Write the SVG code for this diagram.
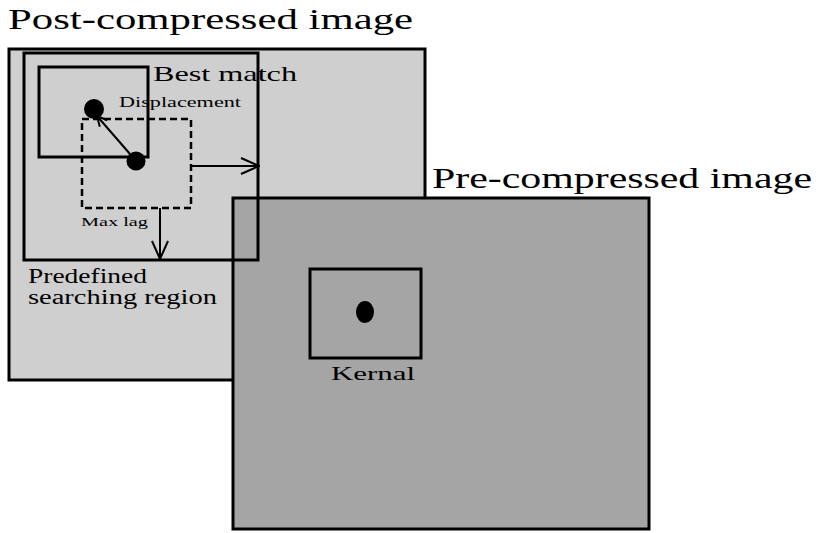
<svg xmlns="http://www.w3.org/2000/svg" width="820" height="533" viewBox="0 0 820 533">
<style>
  text { font-family: "Liberation Serif", "DejaVu Serif", serif; fill: #000; }
  .box { fill: none; stroke: #000; stroke-width: 3; }
  .ln { fill: none; stroke: #000; stroke-width: 2; }
</style>
<defs>
  <marker id="open" viewBox="0 0 12 12" refX="11" refY="6" markerWidth="12" markerHeight="12" markerUnits="userSpaceOnUse" orient="auto">
    <path d="M1,1 L11,6 L1,11" fill="none" stroke="#000" stroke-width="2"/>
  </marker>
  <marker id="open2" viewBox="0 0 20 20" refX="19" refY="10" markerWidth="20" markerHeight="20" markerUnits="userSpaceOnUse" orient="auto">
    <path d="M1,2 L19,10 L1,18" fill="none" stroke="#000" stroke-width="2"/>
  </marker>
</defs>
<rect width="820" height="533" fill="#fff"/>
<g id="post-image">
  <rect x="9" y="49" width="416" height="331" fill="#d0cfd0" stroke="#000" stroke-width="3"/>
  <text x="8" y="29" font-size="30" textLength="405" lengthAdjust="spacingAndGlyphs">Post-compressed image</text>
</g>
<g id="pre-image">
  <rect x="233" y="198" width="416" height="331" fill="#a5a5a5" stroke="#000" stroke-width="3"/>
  <text x="432" y="188" font-size="30" textLength="380" lengthAdjust="spacingAndGlyphs">Pre-compressed image</text>
</g>
<g id="search-region">
  <rect class="box" x="24" y="53" width="234" height="207"/>
  <text x="28" y="283" font-size="20" textLength="119" lengthAdjust="spacingAndGlyphs">Predefined</text>
  <text x="28" y="304" font-size="20" textLength="189" lengthAdjust="spacingAndGlyphs">searching region</text>
</g>
<g id="best-match">
  <rect class="box" x="39" y="67" width="109" height="90"/>
  <ellipse cx="94" cy="109" rx="10" ry="10" fill="#000"/>
  <text x="153" y="81" font-size="21" textLength="144" lengthAdjust="spacingAndGlyphs">Best match</text>
</g>
<g id="max-lag">
  <rect x="82" y="119" width="109" height="89" fill="none" stroke="#000" stroke-width="2.5" stroke-dasharray="7,4"/>
  <ellipse cx="136" cy="161" rx="9.5" ry="9.5" fill="#000"/>
  <text x="81" y="226" font-size="13" textLength="67" lengthAdjust="spacingAndGlyphs">Max lag</text>
</g>
<g id="kernel">
  <rect class="box" x="310" y="269" width="111" height="89"/>
  <ellipse cx="365" cy="312" rx="9" ry="11" fill="#000"/>
  <text x="331" y="380" font-size="19" textLength="84" lengthAdjust="spacingAndGlyphs">Kernal</text>
</g>
<g id="connectors">
  <line class="ln" x1="130" y1="154" x2="97" y2="116" marker-end="url(#open)"/>
  <text x="119" y="107" font-size="14" textLength="122" lengthAdjust="spacingAndGlyphs">Displacement</text>
  <line class="ln" x1="191" y1="166" x2="259" y2="166" marker-end="url(#open2)"/>
  <line class="ln" x1="160" y1="208" x2="160" y2="259" marker-end="url(#open2)"/>
</g>
</svg>
